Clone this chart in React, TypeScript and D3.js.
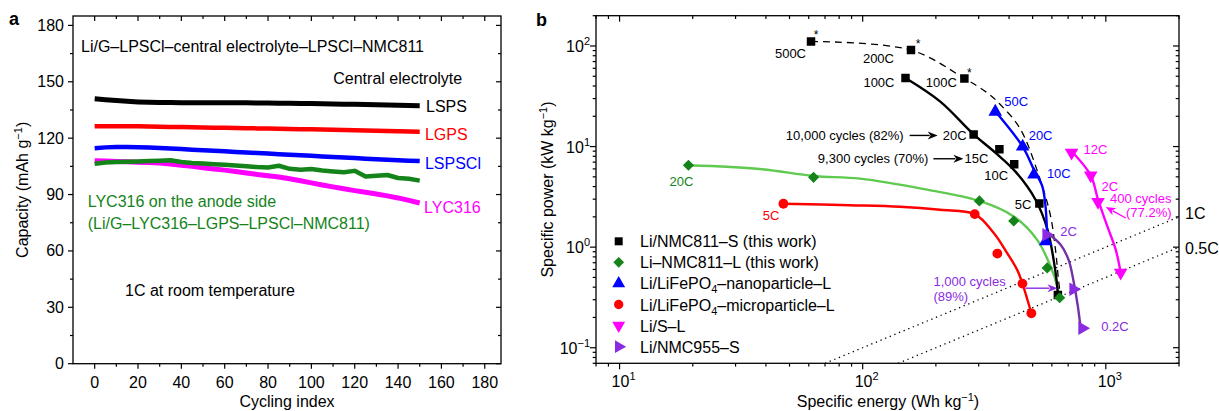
import { useEffect, useRef } from "react"
import * as d3 from "d3"

// ---------- panel a: capacity vs cycling index (1C, room temperature) ----------
const cycleIndex = [0, 5, 10, 15, 20, 25, 30, 35, 40, 45, 50, 55, 60, 65, 70, 75, 80, 85, 90, 95, 100, 105, 110, 115, 120, 125, 130, 135, 140, 145, 150]
const capLSPS = [141.0, 140.5, 140.0, 139.6, 139.3, 139.1, 139.0, 139.0, 138.9, 138.9, 138.9, 138.9, 138.8, 138.8, 138.8, 138.7, 138.7, 138.6, 138.6, 138.5, 138.4, 138.3, 138.2, 138.1, 138.0, 137.9, 137.8, 137.7, 137.5, 137.4, 137.3]
const capLGPS = [126.3, 126.4, 126.4, 126.4, 126.3, 126.2, 126.1, 126.0, 125.9, 125.8, 125.7, 125.6, 125.5, 125.4, 125.3, 125.2, 125.1, 125.0, 124.9, 124.8, 124.7, 124.6, 124.5, 124.4, 124.2, 124.1, 124.0, 123.8, 123.7, 123.5, 123.4]
const capLSPSCl = [114.6, 115.1, 115.3, 115.3, 115.2, 115.0, 114.8, 114.5, 114.2, 113.9, 113.6, 113.3, 113.0, 112.7, 112.4, 112.1, 111.8, 111.5, 111.2, 110.9, 110.6, 110.3, 110.0, 109.7, 109.4, 109.1, 108.8, 108.5, 108.2, 108.0, 107.8]
const capLYC316 = [108.0, 107.8, 107.6, 107.4, 107.2, 107.0, 106.8, 106.3, 105.6, 105.0, 104.3, 103.6, 103.0, 102.3, 101.5, 100.7, 100.0, 99.3, 98.4, 97.3, 96.2, 95.1, 94.1, 93.1, 92.1, 91.2, 90.3, 89.3, 88.2, 86.9, 85.5]
const capAnodeLYC = [106.4, 107.0, 107.3, 107.5, 107.6, 107.8, 108.0, 108.2, 107.3, 106.8, 106.5, 106.1, 105.8, 105.5, 105.0, 104.6, 104.4, 105.3, 103.7, 103.2, 103.6, 102.8, 102.3, 101.9, 102.6, 99.6, 100.0, 100.4, 98.8, 98.4, 97.4]

// ---------- panel b: Ragone plot (specific energy Wh/kg vs specific power kW/kg) ----------
const nmc811S_E = [150, 286, 365, 420, 533, 635]
const nmc811S_P = [48, 13.2, 9.4, 6.67, 2.72, 0.334]
const nmc811S_fitE = [150, 208, 286, 351, 425, 514, 576, 610, 627, 636]
const nmc811S_fitP = [48, 28.1, 13.2, 8.71, 5.63, 2.96, 1.49, 0.747, 0.472, 0.32]

const nmc811Star_E = [61.3, 158, 262]
const nmc811Star_P = [111, 91, 47.6]
const nmc811Star_fitE = [61.3, 158, 262, 325, 368, 446, 548, 593, 621, 639, 652]
const nmc811Star_fitP = [111, 91, 47.6, 34.3, 26.2, 14.8, 4.02, 2.02, 0.94, 0.472, 0.32]

const nmc811L_E = [19.2, 62.8, 302, 418, 574, 646]
const nmc811L_P = [6.52, 4.94, 2.88, 1.82, 0.622, 0.314]
const nmc811L_fitE = [19.2, 37.7, 62.8, 97.5, 184, 302, 418, 522, 593, 632, 641]
const nmc811L_fitP = [6.52, 5.99, 5.1, 4.8, 3.73, 2.88, 2.02, 1.18, 0.641, 0.405, 0.322]

const lfpNano_E = [351, 455, 506, 566]
const lfpNano_P = [22.2, 10, 5.26, 1.14]
const lfpNano_fitE = [346, 455, 506, 548, 565, 574, 578]
const lfpNano_fitP = [23.4, 10, 5.9, 4.02, 2.54, 1.38, 1.14]

const lfpMicro_E = [47.2, 289, 358, 454, 494]
const lfpMicro_P = [2.7, 2.13, 0.863, 0.434, 0.22]
const lfpMicro_fitE = [47.2, 88.6, 142.5, 208, 289, 346, 393, 432, 454, 494]
const lfpMicro_fitP = [2.7, 2.61, 2.52, 2.35, 2.13, 1.38, 0.871, 0.594, 0.434, 0.22]

const liS_E = [723, 867, 929, 1151]
const liS_P = [8.7, 5.17, 2.81, 0.558]
const liS_fitE = [723, 867, 929, 1015, 1099, 1151]
const liS_fitP = [8.98, 5.17, 2.96, 1.605, 0.94, 0.558]

const nmc955_E = [569, 735, 800]
const nmc955_P = [1.33, 0.382, 0.156]
const nmc955_fitE = [574, 652, 703, 739, 766, 788]
const nmc955_fitP = [1.39, 1.054, 0.747, 0.441, 0.266, 0.157]

const cRates = [1, 0.5]
const cRateLabels = ["1C", "0.5C"]

const legendNames = [
  "Li/NMC811–S (this work)",
  "Li–NMC811–L (this work)",
  "Li/LiFePO|4|–nanoparticle–L",
  "Li/LiFePO|4|–microparticle–L",
  "Li/S–L",
  "Li/NMC955–S",
]

const FONT = "'Liberation Sans', Arial, Helvetica, sans-serif"
const GREEN_DARK = "#14831a"
const GREEN_LIGHT = "#5fc950"
const PURPLE = "#8a2be2"
const PURPLE_LINE = "#7332a8"

const zip = (a: number[], b: number[]) => a.map((v, i) => [v, b[i]] as [number, number])

function drawPanelA(svg: any) {
  const L = 73, R = 501, T = 16, B = 363.7
  const x = d3.scaleLinear().domain([-10, 187.5]).range([L, R])
  const y = d3.scaleLinear().domain([0, 185]).range([B, T])
  const g = svg.append("g")

  const series = [
    { v: capLSPS, c: "#000000", w: 5 },
    { v: capLGPS, c: "#ff0000", w: 4.5 },
    { v: capLSPSCl, c: "#0000ff", w: 4.5 },
    { v: capLYC316, c: "#ff00ff", w: 5 },
    { v: capAnodeLYC, c: GREEN_DARK, w: 4.5 },
  ]
  const line = d3.line<number>().x((_, i) => x(cycleIndex[i])).y((d) => y(d))
  series.forEach((s) => {
    g.append("path").attr("d", line(s.v)).attr("fill", "none").attr("stroke", s.c)
      .attr("stroke-width", s.w).attr("stroke-linejoin", "round")
  })

  g.append("rect").attr("x", L).attr("y", T).attr("width", R - L).attr("height", B - T)
    .attr("fill", "none").attr("stroke", "#000").attr("stroke-width", 1.3)

  // x ticks
  d3.range(0, 190, 10).forEach((v) => {
    const major = v % 20 === 0
    const len = major ? 5 : 3
    g.append("line").attr("x1", x(v)).attr("x2", x(v)).attr("y1", B).attr("y2", B + len).attr("stroke", "#000").attr("stroke-width", 1.2)
    g.append("line").attr("x1", x(v)).attr("x2", x(v)).attr("y1", T).attr("y2", T + len).attr("stroke", "#000").attr("stroke-width", 1.2)
    if (major) {
      g.append("text").attr("x", x(v)).attr("y", B + 24).attr("text-anchor", "middle").attr("font-size", 16).text(v)
    }
  })
  // y ticks
  d3.range(0, 181, 15).forEach((v) => {
    const major = v % 30 === 0
    const len = major ? 5 : 3
    g.append("line").attr("x1", L - len).attr("x2", L).attr("y1", y(v)).attr("y2", y(v)).attr("stroke", "#000").attr("stroke-width", 1.2)
    g.append("line").attr("x1", R - len).attr("x2", R).attr("y1", y(v)).attr("y2", y(v)).attr("stroke", "#000").attr("stroke-width", 1.2)
    if (major) {
      g.append("text").attr("x", L - 9).attr("y", y(v) + 5.5).attr("text-anchor", "end").attr("font-size", 16).text(v)
    }
  })

  g.append("text").attr("x", (L + R) / 2 - 0).attr("y", 407).attr("text-anchor", "middle").attr("font-size", 16).text("Cycling index")
  const yl = g.append("text").attr("transform", `translate(28,${(T + B) / 2}) rotate(-90)`).attr("text-anchor", "middle").attr("font-size", 16)
  yl.append("tspan").text("Capacity (mAh g")
  yl.append("tspan").attr("dy", -6).attr("font-size", 11).text("−1")
  yl.append("tspan").attr("dy", 6).text(")")

  g.append("text").attr("x", 9).attr("y", 25).attr("font-size", 18).attr("font-weight", "bold").text("a")

  const txt = (t: string, xv: number, yv: number, color: string, anchor = "start") =>
    g.append("text").attr("x", x(xv)).attr("y", y(yv)).attr("fill", color).attr("text-anchor", anchor).attr("font-size", 16).text(t)
  txt("Li/G–LPSCl–central electrolyte–LPSCl–NMC811", -6.3, 165.6, "#000")
  txt("Central electrolyte", 169.6, 148.8, "#000", "end")
  txt("LSPS", 152.9, 133.7, "#000")
  txt("LGPS", 152.4, 119.2, "#ff0000")
  txt("LSPSCl", 152.4, 103.6, "#0000ff")
  txt("LYC316", 152, 80.2, "#ff00ff")
  txt("LYC316 on the anode side", -3.2, 83.4, GREEN_DARK)
  txt("(Li/G–LYC316–LGPS–LPSCl–NMC811)", -3.2, 71.7, GREEN_DARK)
  txt("1C at room temperature", 14, 35.8, "#000")
}

function symbolPath(kind: string, size: number) {
  if (kind === "square") return d3.symbol(d3.symbolSquare, size)()
  if (kind === "circle") return d3.symbol(d3.symbolCircle, size)()
  if (kind === "diamond") return d3.symbol(d3.symbolSquare, size)()
  return d3.symbol(d3.symbolTriangle, size)()
}
function symbolRotation(kind: string) {
  if (kind === "diamond") return 45
  if (kind === "down") return 180
  if (kind === "right") return 90
  return 0
}

function drawPanelB(svg: any) {
  const L = 596, R = 1179, T = 15.7, B = 363.3
  const x = d3.scaleLog().domain([8, 2000]).range([L, R])
  const y = d3.scaleLog().domain([0.07, 200]).range([B, T])
  const g = svg.append("g")

  const clipId = "clipB"
  g.append("clipPath").attr("id", clipId).append("rect").attr("x", L).attr("y", T).attr("width", R - L).attr("height", B - T)
  const plot = g.append("g").attr("clip-path", `url(#${clipId})`)

  // constant C-rate lines
  cRates.forEach((c, i) => {
    const e0 = 0.07 * 1000 / c
    const e1 = 2000
    plot.append("line").attr("x1", x(e0)).attr("y1", y(0.07)).attr("x2", x(e1)).attr("y2", y((e1 * c) / 1000))
      .attr("stroke", "#000").attr("stroke-width", 1.3).attr("stroke-dasharray", "1.3,3.7")
    g.append("text").attr("x", R + 6).attr("y", y((e1 * c) / 1000) + (i === 0 ? 2 : 7)).attr("font-size", 16).text(cRateLabels[i])
  })

  const curve = d3.line<[number, number]>().x((d) => x(d[0])).y((d) => y(d[1])).curve(d3.curveCatmullRom.alpha(0.5))
  const fits = [
    { e: nmc811L_fitE, p: nmc811L_fitP, c: GREEN_LIGHT, w: 2.4, dash: null },
    { e: lfpMicro_fitE, p: lfpMicro_fitP, c: "#ff0000", w: 2.4, dash: null },
    { e: nmc811Star_fitE, p: nmc811Star_fitP, c: "#000", w: 1.3, dash: "7,5" },
    { e: nmc811S_fitE, p: nmc811S_fitP, c: "#000", w: 2.4, dash: null },
    { e: lfpNano_fitE, p: lfpNano_fitP, c: "#0000ff", w: 2.4, dash: null },
    { e: liS_fitE, p: liS_fitP, c: "#ff00ff", w: 2.4, dash: null },
    { e: nmc955_fitE, p: nmc955_fitP, c: PURPLE_LINE, w: 2.4, dash: null },
  ]
  fits.forEach((f) => {
    plot.append("path").attr("d", curve(zip(f.e, f.p))).attr("fill", "none").attr("stroke", f.c)
      .attr("stroke-width", f.w).attr("stroke-dasharray", f.dash)
  })

  const markerSets = [
    { e: nmc811S_E, p: nmc811S_P, kind: "square", c: "#000", size: 72 },
    { e: nmc811Star_E, p: nmc811Star_P, kind: "square", c: "#000", size: 72 },
    { e: lfpNano_E, p: lfpNano_P, kind: "up", c: "#0000ff", size: 80 },
    { e: lfpMicro_E, p: lfpMicro_P, kind: "circle", c: "#ff0000", size: 75 },
    { e: liS_E, p: liS_P, kind: "down", c: "#ff00ff", size: 80 },
    { e: nmc955_E, p: nmc955_P, kind: "right", c: PURPLE, size: 80 },
    { e: nmc811L_E, p: nmc811L_P, kind: "diamond", c: GREEN_DARK, size: 62 },
  ]
  markerSets.forEach((m) => {
    m.e.forEach((e, i) => {
      plot.append("path").attr("d", symbolPath(m.kind, m.size))
        .attr("transform", `translate(${x(e)},${y(m.p[i])}) rotate(${symbolRotation(m.kind)})`)
        .attr("fill", m.c)
    })
  })

  // frame and ticks
  g.append("rect").attr("x", L).attr("y", T).attr("width", R - L).attr("height", B - T)
    .attr("fill", "none").attr("stroke", "#000").attr("stroke-width", 1.3)

  const isMajor = (v: number) => Math.abs(Math.log10(v) - Math.round(Math.log10(v))) < 1e-9
  const supText = (sel: any, base: string, exp: string) => {
    sel.append("tspan").text(base)
    sel.append("tspan").attr("dy", -7).attr("font-size", 11).text(exp)
  }
  x.ticks().forEach((v: number) => {
    const major = isMajor(v)
    const len = major ? 6 : 3.3
    g.append("line").attr("x1", x(v)).attr("x2", x(v)).attr("y1", B).attr("y2", B + len).attr("stroke", "#000").attr("stroke-width", 1.2)
    g.append("line").attr("x1", x(v)).attr("x2", x(v)).attr("y1", T).attr("y2", T + len).attr("stroke", "#000").attr("stroke-width", 1.2)
    if (major) {
      const t = g.append("text").attr("x", x(v) + 4).attr("y", B + 24).attr("text-anchor", "middle").attr("font-size", 16)
      supText(t, "10", String(Math.round(Math.log10(v))))
    }
  })
  y.ticks().forEach((v: number) => {
    const major = isMajor(v)
    const len = major ? 6 : 3.3
    g.append("line").attr("x1", L - len).attr("x2", L).attr("y1", y(v)).attr("y2", y(v)).attr("stroke", "#000").attr("stroke-width", 1.2)
    g.append("line").attr("x1", R - len).attr("x2", R).attr("y1", y(v)).attr("y2", y(v)).attr("stroke", "#000").attr("stroke-width", 1.2)
    if (major) {
      const t = g.append("text").attr("x", L - 6).attr("y", y(v) + 6).attr("text-anchor", "end").attr("font-size", 16)
      const ex = Math.round(Math.log10(v))
      supText(t, "10", ex < 0 ? "−" + Math.abs(ex) : String(ex))
    }
  })

  const xl = g.append("text").attr("x", 888).attr("y", 407).attr("text-anchor", "middle").attr("font-size", 16)
  xl.append("tspan").text("Specific energy (Wh kg")
  xl.append("tspan").attr("dy", -6).attr("font-size", 11).text("−1")
  xl.append("tspan").attr("dy", 6).text(")")
  const yl = g.append("text").attr("transform", `translate(553,${(T + B) / 2}) rotate(-90)`).attr("text-anchor", "middle").attr("font-size", 16)
  yl.append("tspan").text("Specific power (kW kg")
  yl.append("tspan").attr("dy", -6).attr("font-size", 11).text("−1")
  yl.append("tspan").attr("dy", 6).text(")")

  g.append("text").attr("x", 536).attr("y", 26).attr("font-size", 18).attr("font-weight", "bold").text("b")

  // annotations anchored on data points
  const lab = (t: string, e: number, p: number, dx: number, dy: number, color: string, anchor = "start", size = 13) =>
    g.append("text").attr("x", x(e) + dx).attr("y", y(p) + dy).attr("text-anchor", anchor).attr("fill", color).attr("font-size", size).text(t)
  lab("500C", 61.3, 111, -5, 17, "#000", "end")
  lab("200C", 158, 91, -17, 12.5, "#000", "end")
  lab("100C", 150, 48, -11, 8.5, "#000", "end")
  lab("100C", 262, 47.6, -7.5, 8.5, "#000", "end")
  lab("*", 61.3, 111, 5, -2.5, "#000", "middle", 12)
  lab("*", 158, 91, 7, -2, "#000", "middle", 12)
  lab("*", 262, 47.6, 5, -1.5, "#000", "middle", 12)
  lab("20C", 286, 13.2, -7, 6, "#000", "end")
  lab("15C", 365, 9.4, -11, 14, "#000", "end")
  lab("10C", 420, 6.67, -6, 16, "#000", "end")
  lab("5C", 533, 2.72, -8, 6, "#000", "end")
  lab("10,000 cycles (82%)", 286, 13.2, -70, 6, "#000", "end")
  lab("9,300 cycles (70%)", 365, 9.4, -71, 14, "#000", "end")
  lab("50C", 351, 22.2, 9, -5.5, "#0000ff")
  lab("20C", 455, 10, 6, -7, "#0000ff")
  lab("10C", 506, 5.26, 13, 3, "#0000ff")
  lab("12C", 723, 8.7, 12, 1.5, "#ff00ff")
  lab("2C", 929, 2.81, 3.5, -11, "#ff00ff")
  lab("400 cycles", 929, 2.81, 12, 1, "#ff00ff")
  lab("(77.2%)", 929, 2.81, 28, 15, "#ff00ff")
  lab("2C", 569, 1.33, 14, 1.5, PURPLE)
  lab("0.2C", 800, 0.156, 19, 3, PURPLE)
  lab("1,000 cycles", 454, 0.434, -89, 2.5, PURPLE)
  lab("(89%)", 454, 0.434, -89, 17.5, PURPLE)
  lab("5C", 47.2, 2.7, -4, 16, "#ff0000", "end")
  lab("20C", 19.2, 6.52, 5, 21, GREEN_DARK, "end")

  const arrow = (e: number, p: number, dx1: number, dy1: number, dx2: number, dy2: number, color: string) => {
    const x1 = x(e) + dx1, y1 = y(p) + dy1, x2 = x(e) + dx2, y2 = y(p) + dy2
    const ang = Math.atan2(y2 - y1, x2 - x1)
    const hl = 10, hw = 4
    const bx = x2 - hl * Math.cos(ang), by = y2 - hl * Math.sin(ang)
    g.append("line").attr("x1", x1).attr("y1", y1).attr("x2", bx + 2 * Math.cos(ang)).attr("y2", by + 2 * Math.sin(ang)).attr("stroke", color).attr("stroke-width", 1.4)
    const px = -Math.sin(ang), py = Math.cos(ang)
    const nx = x2 - (hl - 3) * Math.cos(ang), ny = y2 - (hl - 3) * Math.sin(ang)
    g.append("path").attr("d", `M${x2},${y2} L${bx + hw * px},${by + hw * py} L${nx},${ny} L${bx - hw * px},${by - hw * py} Z`).attr("fill", color)
  }
  arrow(286, 13.2, -64, 1, -36, 1, "#000")
  arrow(365, 9.4, -66, 9.5, -36, 9.5, "#000")
  arrow(929, 2.81, 27.7, 16, 7.7, 5, "#ff00ff")
  arrow(454, 0.434, 3, 4.6, 35, 4.6, PURPLE)

  // legend
  const kinds = ["square", "diamond", "up", "circle", "down", "right"]
  const colors = ["#000", GREEN_DARK, "#0000ff", "#ff0000", "#ff00ff", PURPLE]
  const sizes = [64, 58, 72, 68, 72, 72]
  legendNames.forEach((name, i) => {
    const cy = 241.3 + i * 21.07
    g.append("path").attr("d", symbolPath(kinds[i], sizes[i]))
      .attr("transform", `translate(618.7,${cy}) rotate(${symbolRotation(kinds[i])})`).attr("fill", colors[i])
    const t = g.append("text").attr("x", 640).attr("y", cy + 6).attr("font-size", 16)
    const parts = name.split("|")
    t.append("tspan").text(parts[0])
    if (parts.length > 1) {
      t.append("tspan").attr("dy", 4).attr("font-size", 11).text(parts[1])
      t.append("tspan").attr("dy", -4).text(parts[2])
    }
  })
}

export default function App() {
  const ref = useRef<SVGSVGElement>(null)
  useEffect(() => {
    const svg = d3.select(ref.current)
    svg.selectAll("*").remove()
    svg.attr("font-family", FONT)
    drawPanelA(svg)
    drawPanelB(svg)
  }, [])
  return (
    <svg ref={ref} width={1219} height={411}
      style={{ position: "absolute", left: 0, top: 0, background: "#fff" }} />
  )
}
